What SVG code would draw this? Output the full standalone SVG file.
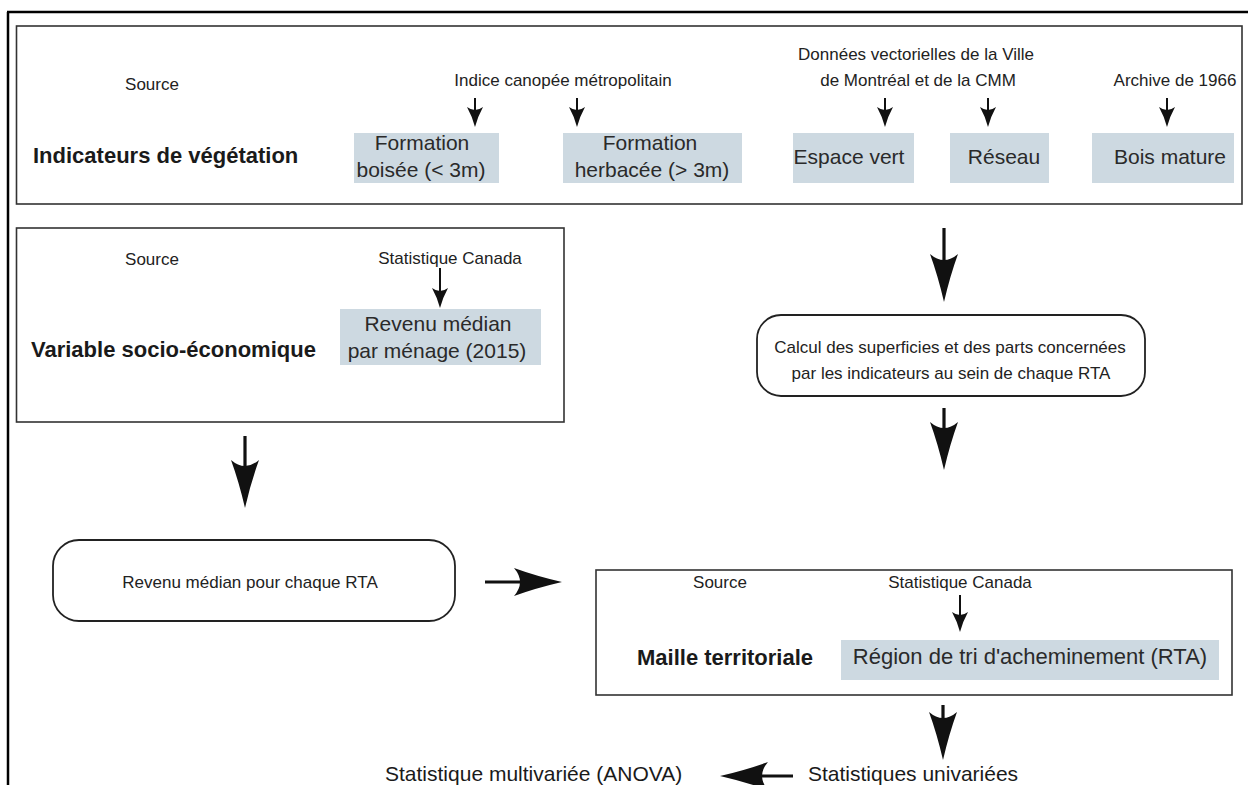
<svg xmlns="http://www.w3.org/2000/svg" width="1248" height="785" viewBox="0 0 1248 785">
<style>
.lbl{font-family:"Liberation Sans",Arial,sans-serif;font-size:17px;fill:#222;text-anchor:middle}
.ttl{font-family:"Liberation Sans",Arial,sans-serif;font-size:22px;font-weight:bold;fill:#1a1a1a}
.cell{font-family:"Liberation Sans",Arial,sans-serif;font-size:21px;fill:#2a2a2a;text-anchor:middle}
.big{font-family:"Liberation Sans",Arial,sans-serif;font-size:21px;fill:#1a1a1a}
.frame{fill:#fff;stroke:#333;stroke-width:1.6}
.cellbox{fill:#cdd9e1}
.shaft{stroke:#111;stroke-width:3.2;fill:none}
.sshaft{stroke:#111;stroke-width:2;fill:none}
.head{fill:#111}
</style>
<defs>
<path id="bh" d="M0,0 Q-6,-26 -14,-48 Q0,-36 14,-48 Q6,-26 0,0 Z"/>
<path id="sh" d="M0,0 Q-3,-11 -8,-20 Q0,-14 8,-20 Q3,-11 0,0 Z"/>
</defs>
<rect width="1248" height="785" fill="#fff"/>
<g id="outer-frame">
<path d="M7,12 H1248 M8,12 V785" stroke="#000" stroke-width="2.5" fill="none"/>
</g>
<g id="indicateurs">
<rect class="frame" x="16.5" y="26" width="1225.5" height="178"/>
<text class="lbl" x="152" y="90">Source</text>
<text class="ttl" x="33" y="163">Indicateurs de végétation</text>
<text class="lbl" x="563" y="86">Indice canopée métropolitain</text>
<text class="lbl" x="916" y="60">Données vectorielles de la Ville</text>
<text class="lbl" x="918" y="86">de Montréal et de la CMM</text>
<text class="lbl" x="1175" y="86">Archive de 1966</text>
</g>
<g id="formation-boisee">
<rect class="cellbox" x="354" y="133" width="145" height="50"/>
<text class="cell" x="422" y="150">Formation</text>
<text class="cell" x="421" y="177">boisée (&lt; 3m)</text>
</g>
<g id="formation-herbacee">
<rect class="cellbox" x="563" y="133" width="179" height="50"/>
<text class="cell" x="650" y="150">Formation</text>
<text class="cell" x="652" y="177">herbacée (&gt; 3m)</text>
</g>
<g id="espace-vert">
<rect class="cellbox" x="793" y="133" width="121" height="50"/>
<text class="cell" x="849" y="164">Espace vert</text>
</g>
<g id="reseau">
<rect class="cellbox" x="950" y="133" width="99" height="50"/>
<text class="cell" x="1004" y="164">Réseau</text>
</g>
<g id="bois-mature">
<rect class="cellbox" x="1092" y="133" width="142" height="50"/>
<text class="cell" x="1170" y="164">Bois mature</text>
</g>
<g id="socio-eco">
<rect class="frame" x="16.5" y="228" width="547.5" height="194"/>
<text class="lbl" x="152" y="265">Source</text>
<text class="ttl" x="31" y="357">Variable socio-économique</text>
<text class="lbl" x="450" y="264">Statistique Canada</text>
</g>
<g id="revenu-median">
<rect class="cellbox" x="340" y="309" width="201" height="56"/>
<text class="cell" x="438" y="331">Revenu médian</text>
<text class="cell" x="437" y="358">par ménage (2015)</text>
</g>
<g id="calcul">
<rect x="757" y="315" width="388" height="81" rx="24" fill="#fff" stroke="#222" stroke-width="1.8"/>
<text class="lbl" x="950" y="353">Calcul des superficies et des parts concernées</text>
<text class="lbl" x="951" y="379">par les indicateurs au sein de chaque RTA</text>
</g>
<g id="revenu-rta">
<rect x="53" y="540" width="402" height="81" rx="26" fill="#fff" stroke="#222" stroke-width="1.8"/>
<text class="lbl" x="250" y="588">Revenu médian pour chaque RTA</text>
</g>
<g id="maille">
<rect class="frame" x="596" y="570" width="636" height="125"/>
<text class="lbl" x="720" y="588">Source</text>
<text class="lbl" x="960" y="588">Statistique Canada</text>
<text class="ttl" x="637" y="665">Maille territoriale</text>
<rect class="cellbox" x="841" y="640" width="378" height="40"/>
<text class="cell" x="1030" y="664" style="font-size:22px">Région de tri d'acheminement (RTA)</text>
</g>
<g id="stat-uni">
<text class="big" x="808" y="781">Statistiques univariées</text>
</g>
<g id="stat-multi">
<text class="big" x="385" y="781">Statistique multivariée (ANOVA)</text>
</g>
<g id="connectors">
<path class="sshaft" d="M475,98 V116 M577,98 V116 M885,98 V116 M988,98 V116 M1167,98 V116 M440,268 V300 M960,595 V622"/>
<use href="#sh" class="head" transform="translate(475,127)"/>
<use href="#sh" class="head" transform="translate(577,127)"/>
<use href="#sh" class="head" transform="translate(885,127)"/>
<use href="#sh" class="head" transform="translate(988,127)"/>
<use href="#sh" class="head" transform="translate(1167,127)"/>
<use href="#sh" class="head" transform="translate(440,308)"/>
<use href="#sh" class="head" transform="translate(960,632)"/>
<path class="shaft" d="M944,228 V270 M944,408 V440 M245,436 V470 M943,705 V725 M485,582 H530 M793,776 H750"/>
<use href="#bh" class="head" transform="translate(944,302)"/>
<use href="#bh" class="head" transform="translate(944,470)"/>
<use href="#bh" class="head" transform="translate(245,508)"/>
<use href="#bh" class="head" transform="translate(943,760)"/>
<use href="#bh" class="head" transform="translate(562,582) rotate(-90)"/>
<use href="#bh" class="head" transform="translate(720,776) rotate(90)"/>
</g>
</svg>
